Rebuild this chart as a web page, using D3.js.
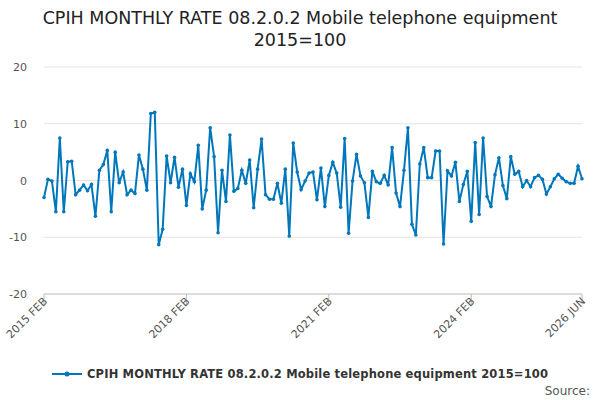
<!DOCTYPE html><html><head><meta charset="utf-8"><script src="https://cdn.jsdelivr.net/npm/d3@7"></script>
<style>body{margin:0;background:#fff;font-family:"DejaVu Sans",sans-serif}</style></head><body><svg id="c" width="600" height="400"></svg>
<script>
const values=[-3,0.2,-0.1,-5.5,7.5,-5.5,3.3,3.4,-2.5,-1.7,-0.8,
-1.8,-0.7,-6.3,1.8,2.8,5.3,-5.5,5,-0.4,1.5,-2.5,-1.7,
-2.3,4.5,2,-1.7,11.8,12,-11.3,-8.6,4.3,-0.4,4.1,-1.2,
2,-4.4,1.2,-0.2,6.2,-5,-1.7,9.3,4.2,-9.2,1.8,-3.7,
8,-1.9,-1.4,1.8,-0.5,3.6,-4.8,2,7.3,-2.5,-3.3,-3.3,
-0.5,-4,2,-9.8,6.6,1.5,-1.6,-0.1,1.3,1.5,-3.4,2.2,
-4.6,0.9,3.2,1.3,-4.7,7.4,-9.3,-0.1,4.6,0.8,-0.4,-6.5,
1.6,-0.2,-0.5,0.9,-0.8,5.8,-2.2,-4.6,1.8,9.3,-7.7,-9.6,
2.9,5.8,0.5,0.5,5.2,5.2,-11.2,1.7,0.8,3.2,-3.7,-0.7,
1.6,-7.2,6.7,-6,7.5,-2.8,-4.6,1,4,-0.9,-3.2,4.2,
1.1,1.6,-1.1,0,-1.1,0.5,0.9,0.2,-2.4,-1.1,0.3,1.1,
0.4,-0.2,-0.5,-0.5,2.5,0.3];
const yTicks=[-20,-10,0,10,20];
const xTickLabels=["2015 FEB","2018 FEB","2021 FEB","2024 FEB","2026 JUN"];
const xTickIdx=[0,36,72,108,136];
const title=["CPIH MONTHLY RATE 08.2.0.2 Mobile telephone equipment","2015=100"];
const col="#0077bb";
const svg=d3.select("#c");
const x=d3.scaleLinear().domain([0,values.length-1]).range([44,582]);
const y=d3.scaleLinear().domain([-20,20]).range([294,67]);
svg.selectAll(".t").data(title).join("text").attr("x",300).attr("y",(d,i)=>24+i*22).attr("text-anchor","middle").attr("font-size",17.5).attr("fill","#222").text(d=>d);
svg.append("g").selectAll("line").data(yTicks).join("line").attr("x1",44).attr("x2",582).attr("y1",d=>y(d)).attr("y2",d=>y(d)).attr("stroke",d=>d===-20?"#bbb":"#e3e3e3");
svg.append("g").selectAll("text").data(yTicks).join("text").attr("x",27).attr("y",d=>y(d)+4).attr("text-anchor","end").attr("font-size",11).attr("fill","#555").text(d=>d);
const xg=svg.append("g");
xg.selectAll("line").data(xTickIdx).join("line").attr("x1",d=>x(d)).attr("x2",d=>x(d)).attr("y1",294).attr("y2",304).attr("stroke","#bbb");
xg.selectAll("text").data(xTickIdx).join("text").attr("transform",d=>`translate(${x(d)+4},${302}) rotate(-45)`).attr("text-anchor","end").attr("font-size",11).attr("fill","#555").text((d,i)=>xTickLabels[i]);
svg.append("path").datum(values).attr("d",d3.line().x((d,i)=>x(i)).y(d=>y(d))).attr("fill","none").attr("stroke",col).attr("stroke-width",2);
svg.append("g").selectAll("circle").data(values).join("circle").attr("cx",(d,i)=>x(i)).attr("cy",d=>y(d)).attr("r",1.8).attr("fill",col);
const lg=svg.append("g");
lg.append("line").attr("x1",52).attr("x2",82).attr("y1",374).attr("y2",374).attr("stroke",col).attr("stroke-width",2);
lg.append("circle").attr("cx",67).attr("cy",374).attr("r",2.5).attr("fill",col);
lg.append("text").attr("x",87).attr("y",378).attr("font-size",11.5).attr("font-weight","bold").attr("fill","#333").attr("textLength",461).text("CPIH MONTHLY RATE 08.2.0.2 Mobile telephone equipment 2015=100");
svg.append("text").attr("x",590).attr("y",395).attr("text-anchor","end").attr("font-size",12).attr("fill","#555").text("Source:");
</script></body></html>
